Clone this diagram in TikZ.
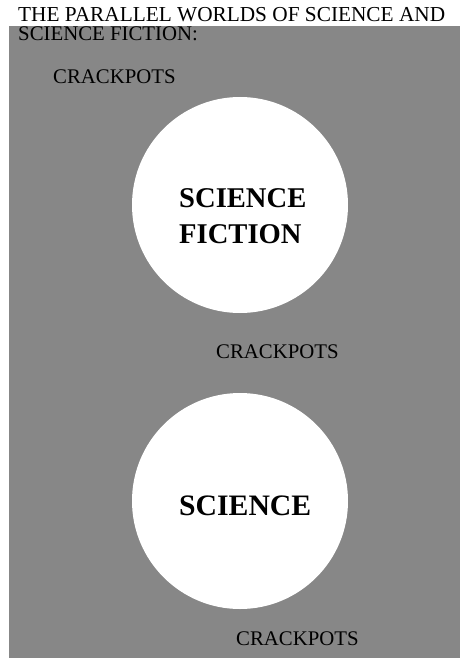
\documentclass[tikz,border=0pt]{standalone}
\usepackage{fontspec}
\setmainfont{Liberation Serif}
\begin{document}
\begin{tikzpicture}[x=1pt,y=-1pt,
  label/.style={anchor=base west,inner sep=0pt,font=\fontsize{20.8}{24}\selectfont},
  big/.style={anchor=base west,inner sep=0pt,font=\fontsize{28.6}{36}\selectfont\bfseries,align=left},
  world/.style={circle,fill=white,draw=none,minimum size=216pt,inner sep=0pt}]
\useasboundingbox (0,0) rectangle (460,658);
\fill[white] (0,0) rectangle (460,658);
\fill[black!47] (9,26) rectangle (460,658);
\node[label,font=\fontsize{21.3}{24}\selectfont] (t1) at (18,22) {THE PARALLEL WORLDS OF SCIENCE AND};
\node[label] (t2) at (18,41) {SCIENCE FICTION:};
\node[label] (c1) at (53,84) {CRACKPOTS};
\node[world] (sf) at (240,205) {};
\node[world] (sc) at (240,501) {};
\node[big] (sft) at (179,207) {SCIENCE};
\node[big] (sft2) at (179,243) {FICTION};
\node[big,font=\fontsize{29.7}{36}\selectfont\bfseries] (sct) at (179,515) {SCIENCE};
\node[label] (c2) at (216,358) {CRACKPOTS};
\node[label] (c3) at (236,645) {CRACKPOTS};
\end{tikzpicture}
\end{document}
